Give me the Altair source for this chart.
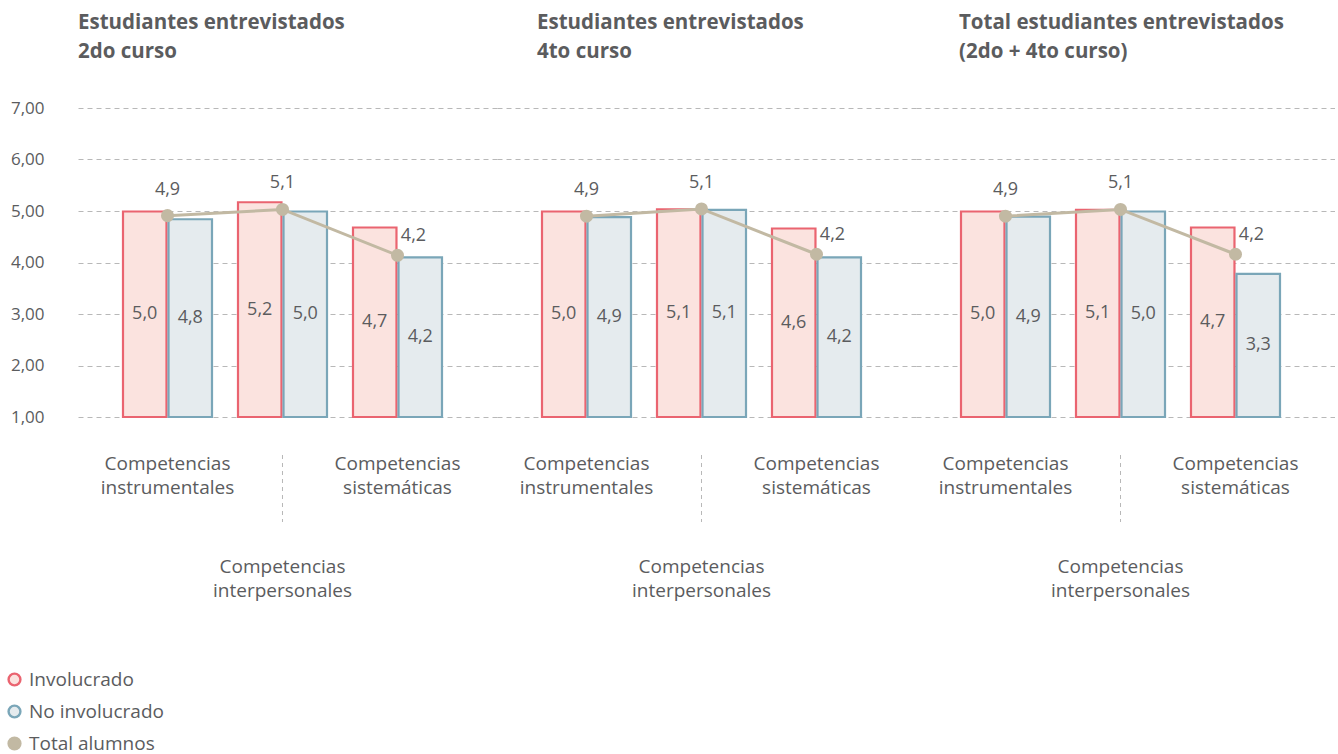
import altair as alt
import pandas as pd

# ---------------- data ----------------
panel_ids = ["2do", "4to", "total"]
panel_titles = [
    ["Estudiantes entrevistados", "2do curso"],
    ["Estudiantes entrevistados", "4to curso"],
    ["Total estudiantes entrevistados", "(2do + 4to curso)"],
]
competencias = ["instrumentales", "interpersonales", "sistemáticas"]
comp_text = [
    ["Competencias", "instrumentales"],
    ["Competencias", "interpersonales"],
    ["Competencias", "sistemáticas"],
]
series = ["Involucrado", "No involucrado", "Total alumnos"]

involucrado = [[4.99, 5.17, 4.68], [4.99, 5.03, 4.66], [4.99, 5.02, 4.68]]
involucrado_lbl = [["5,0", "5,2", "4,7"], ["5,0", "5,1", "4,6"], ["5,0", "5,1", "4,7"]]
no_involucrado = [[4.84, 4.99, 4.10], [4.88, 5.02, 4.10], [4.89, 4.99, 3.78]]
no_involucrado_lbl = [["4,8", "5,0", "4,2"], ["4,9", "5,1", "4,2"], ["4,9", "5,0", "3,3"]]
total = [[4.91, 5.03, 4.14], [4.90, 5.04, 4.16], [4.90, 5.03, 4.16]]
total_lbl = [["4,9", "5,1", "4,2"], ["4,9", "5,1", "4,2"], ["4,9", "5,1", "4,2"]]

y_ticks = [1, 2, 3, 4, 5, 6, 7]

# ---------------- style ----------------
FONT = "Open Sans"
TXT = "#5b5c5e"
FILLS = ["#fbe3df", "#e5ebee", "#c2b9a3"]
STROKES = ["#ea6470", "#7aa6b8", "#c2b9a3"]
PW, PH = 419, 309

rows = []
for p, pid in enumerate(panel_ids):
    for c, comp in enumerate(competencias):
        rows.append(dict(panel=pid, comp=comp, serie=series[0], value=involucrado[p][c], label=involucrado_lbl[p][c]))
        rows.append(dict(panel=pid, comp=comp, serie=series[1], value=no_involucrado[p][c], label=no_involucrado_lbl[p][c]))
        rows.append(dict(panel=pid, comp=comp, serie=series[2], value=total[p][c], label=total_lbl[p][c]))
df = pd.DataFrame(rows)
lab_df = pd.DataFrame({"comp": competencias, "text": comp_text})

fill_scale = alt.Scale(domain=series, range=FILLS)
stroke_scale = alt.Scale(domain=series, range=STROKES)
x_scale = alt.Scale(domain=competencias, paddingInner=0.226, paddingOuter=0.4348, align=0.45)
xoff_scale = alt.Scale(domain=series[:2], paddingInner=0.045, paddingOuter=0)


def panel(i):
    pid = panel_ids[i]
    d = df[df.panel == pid]
    bars_d = d[d.serie != series[2]]
    tot_d = d[d.serie == series[2]]
    first = i == 0
    yaxis = alt.Axis(
        values=y_ticks, grid=True, gridDash=[5, 4], gridColor="#b8b8b8", gridWidth=1,
        domain=False, ticks=False, labels=first, labelPadding=34, labelFontSize=17,
        labelColor=TXT, labelFont=FONT,
        labelExpr="replace(format(datum.value, '.2f'), '.', ',')", title=None,
    )
    y = alt.Y("value:Q", scale=alt.Scale(domain=[1, 7], zero=False, nice=False), axis=yaxis)
    x = alt.X("comp:N", scale=x_scale, axis=None, sort=competencias)

    bars = alt.Chart(bars_d).mark_bar(strokeWidth=2.2).encode(
        x=x,
        xOffset=alt.XOffset("serie:N", scale=xoff_scale),
        y=y,
        y2=alt.datum(1),
        fill=alt.Fill("serie:N", scale=fill_scale,
                      legend=alt.Legend(title=None, orient="none", legendX=-73, legendY=562,
                                        symbolType="circle", symbolSize=140, symbolStrokeWidth=2.4,
                                        labelFontSize=19, labelColor=TXT, labelFont=FONT,
                                        rowPadding=9, labelOffset=5)),
        stroke=alt.Stroke("serie:N", scale=stroke_scale),
    )
    bar_text = alt.Chart(bars_d).transform_calculate(mid="(datum.value + 1) / 2").mark_text(
        font=FONT, fontSize=18, color=TXT, baseline="middle"
    ).encode(
        x=x,
        xOffset=alt.XOffset("serie:N", scale=xoff_scale),
        y=alt.Y("mid:Q"),
        text="label:N",
    )
    line = alt.Chart(tot_d).mark_line(strokeWidth=3).encode(
        x=x, y=y, stroke=alt.Stroke("serie:N", scale=stroke_scale),
    )
    pts = alt.Chart(tot_d).mark_circle(size=170, opacity=1).encode(
        x=x, y=y, fill=alt.Fill("serie:N", scale=fill_scale),
    )
    tot_text_a = alt.Chart(tot_d[tot_d.comp != competencias[2]]).mark_text(
        font=FONT, fontSize=18, color=TXT, dy=-26
    ).encode(x=x, y=y, text="label:N")
    tot_text_b = alt.Chart(tot_d[tot_d.comp == competencias[2]]).mark_text(
        font=FONT, fontSize=18, color=TXT, dx=16, dy=-19
    ).encode(x=x, y=y, text="label:N")

    top_labels = alt.Chart(lab_df[lab_df.comp != competencias[1]]).mark_text(
        font=FONT, fontSize=19, color=TXT, baseline="middle", lineHeight=24
    ).encode(x=x, y=alt.value(PH + 47), text="text")
    low_labels = alt.Chart(lab_df[lab_df.comp == competencias[1]]).mark_text(
        font=FONT, fontSize=19, color=TXT, baseline="middle", lineHeight=24
    ).encode(x=x, y=alt.value(PH + 150), text="text")
    sep = alt.Chart(lab_df[lab_df.comp == competencias[1]]).mark_rule(
        color="#b8b8b8", strokeDash=[4, 4], strokeWidth=1
    ).encode(x=x, y=alt.value(PH + 38), y2=alt.value(PH + 105))

    dx_title = [0, 40, 43][i]
    offset_title = [37, 46, 46][i]
    return alt.layer(
        bars, bar_text, line, pts, tot_text_a, tot_text_b, top_labels, low_labels, sep
    ).properties(
        width=PW, height=PH,
        title=alt.TitleParams(panel_titles[i], anchor="start", frame="group", dx=dx_title, font=FONT,
                              fontSize=20.5, fontWeight="bold", color=TXT, lineHeight=29,
                              offset=offset_title),
    )


chart = alt.hconcat(panel(0), panel(1), panel(2), spacing=0).resolve_scale(
    fill="shared", stroke="shared"
).properties(
    padding={"left": 5, "top": 12, "right": 0, "bottom": 0}
).configure(font=FONT).configure_view(strokeWidth=0, stroke=None)

chart.save("out.html", embed_options={"renderer": "svg", "actions": False})
